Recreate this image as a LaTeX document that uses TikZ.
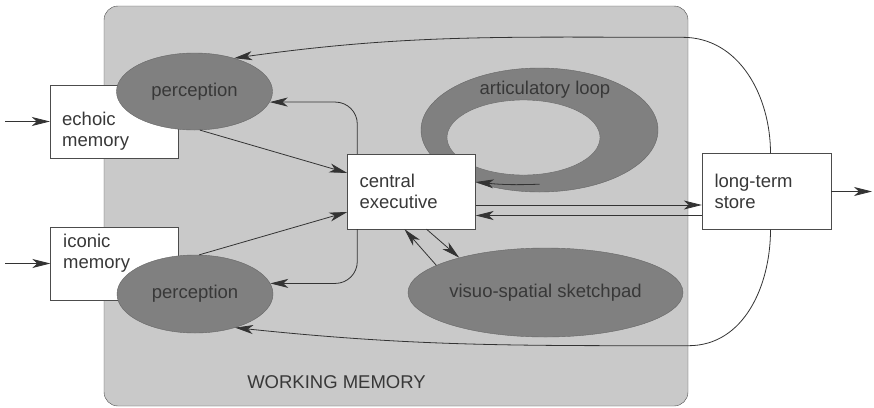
\documentclass[tikz,border=0pt]{standalone}
\usepackage{fontspec}
\setmainfont{Liberation Sans}
\usetikzlibrary{shapes.geometric, positioning, arrows.meta}
\definecolor{wmgray}{gray}{0.79}
\definecolor{blobgray}{gray}{0.5}
\definecolor{inkgray}{gray}{0.22}
\tikzset{
  >={Stealth[length=18pt,width=9pt,inset=5pt]}, % long filled arrow heads
  every node/.style={font=\fontsize{18.5}{21}\selectfont, text=inkgray}, % sans text everywhere
  membox/.style={draw=black!70, fill=white, minimum width=128pt, minimum height=75pt, text width=104pt, align=left, inner sep=0pt}, % white store boxes
  blob/.style={ellipse, draw=black!60, fill=blobgray, inner sep=0pt}, % dark grey components
  plain/.style={inner sep=0pt, align=left}, % free text
  link/.style={->, draw=black!80, line width=0.8pt}, % connectors
}

\begin{document}
\begin{tikzpicture}[x=1pt,y=-1pt]
      \useasboundingbox (0,0) rectangle (874,407);
      \node[draw=black!70, fill=wmgray, rounded corners=14pt, minimum width=584pt, minimum height=400pt, inner sep=0pt] (wm) at (396,206) {};
      \node[plain] (wmtxt) at (336.5,382) {WORKING MEMORY};

      \node[blob, minimum width=237pt, minimum height=124pt] (artic) at (539.5,130) {};
      \node[ellipse, draw=black!60, fill=wmgray, minimum width=153pt, minimum height=75pt, inner sep=0pt] (artichole) at (523.5,137.5) {};
      \node[plain] (artictxt) at (545,90) {articulatory loop};

      \node[membox, minimum height=73pt] (echoic) at (114,121.5) {};
      \node[plain, anchor=west] (echoictxt) at (62,131) {echoic\\memory};
      \node[membox, minimum height=73pt] (iconic) at (114.5,263.5) {};
      \node[plain, anchor=west] (iconictxt) at (63,253.5) {iconic\\memory};

      \node[blob, minimum width=156pt, minimum height=77pt] (percup) at (194.5,91.5) {perception};
      \node[blob, minimum width=156pt, minimum height=78pt] (perclow) at (195,294) {perception};

      \node[membox] (ce) at (411.5,191.5) {central\\executive};
      \node[membox, minimum width=129pt, minimum height=76pt] (lts) at (766.5,191.5) {long-term\\store};
      \node[blob, minimum width=275pt, minimum height=89pt] (vss) at (545.5,292.5) {visuo-spatial sketchpad};

      \coordinate (echoin) at (5,121.5);
      \coordinate (iconin) at (5,263.5);
      \coordinate (ltsout) at (872,191.5);

      \draw[link] (echoin) -- (echoic);
      \draw[link] (iconin) -- (iconic);
      \draw[link] (lts) -- (ltsout);
      \draw[link] (percup.-82) -- ([yshift=18.5pt]ce.west);
      \draw[link] (perclow.84) -- ([yshift=-20.5pt]ce.west);
      \draw[link, rounded corners=22pt] ([xshift=10pt]ce.north west) |- (percup.-8);
      \draw[link, rounded corners=22pt] ([xshift=10pt]ce.south west) |- (perclow.8);
      \draw[link] ([yshift=8pt]artic.south) to[bend left=4] ([yshift=9.5pt]ce.east);
      \draw[link] ([yshift=-13.5pt]ce.east) -- ([yshift=-13.5pt]lts.west);
      \draw[link] ([yshift=-24pt]lts.west) -- ([yshift=-24pt]ce.east);
      \draw[link] (vss.166) -- ([xshift=-7pt]ce.south);
      \draw[link] ([xshift=15pt]ce.south) -- (vss.158);
      \draw[link] ([xshift=4pt]lts.north) to[out=90, in=0] ++(-88,-116) to[out=180, in=8] (percup.40);
      \draw[link] ([xshift=4pt]lts.south) to[out=-90, in=0] ++(-82,116) to[out=180, in=-6] (perclow.-40);
\end{tikzpicture}
\end{document}
